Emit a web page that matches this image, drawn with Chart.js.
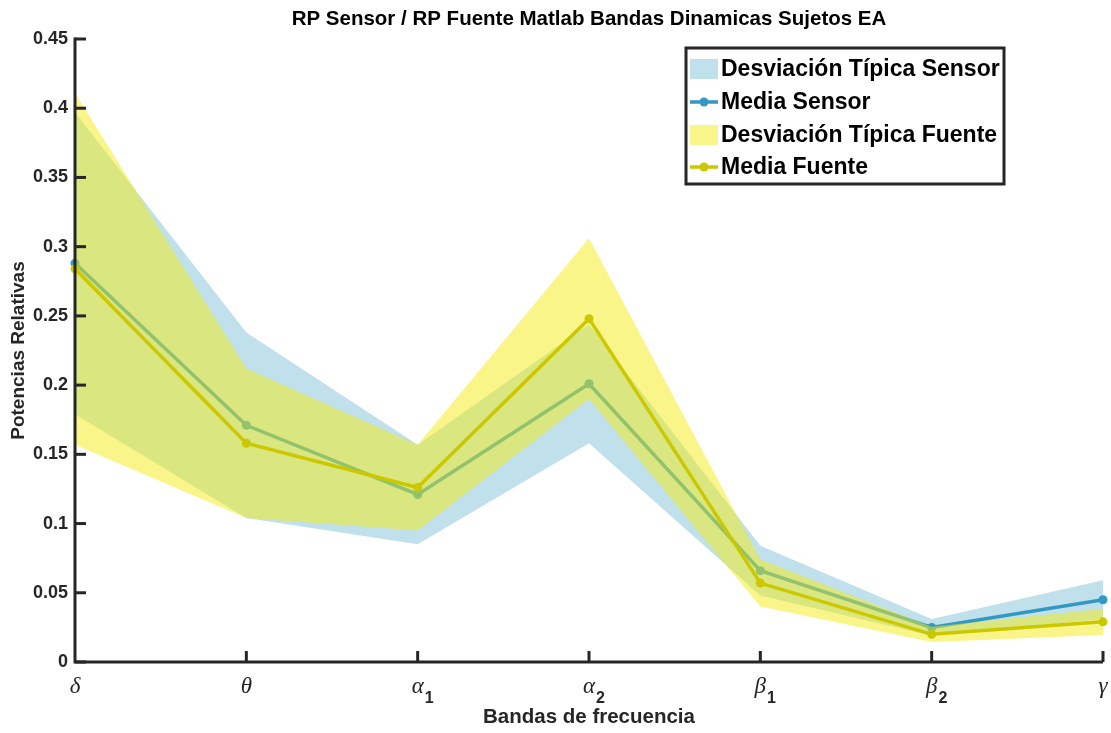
<!DOCTYPE html>
<html>
<head>
<meta charset="utf-8">
<script src="https://cdn.jsdelivr.net/npm/chart.js@4.4.1/dist/chart.umd.min.js"></script>
<style>
html,body{margin:0;padding:0;background:#fff;}
#wrap{width:1111px;height:733px;position:relative;}
</style>
</head>
<body>
<div id="wrap"><canvas id="c" width="1111" height="733"></canvas></div>
<script>
// ---- data ----
const bandLetters = ['δ', 'θ', 'α', 'α', 'β', 'β', 'γ'];
const bandSubs    = ['',  '',  '1', '2', '1', '2', ''];
const categories  = ['δ', 'θ', 'α1', 'α2', 'β1', 'β2', 'γ'];
const sensorMean = [0.288, 0.171, 0.121, 0.201, 0.066, 0.025, 0.045];
const sensorStd  = [0.109, 0.067, 0.036, 0.043, 0.018, 0.006, 0.014];
const fuenteMean = [0.284, 0.158, 0.126, 0.248, 0.057, 0.020, 0.029];
const fuenteStd  = [0.127, 0.054, 0.031, 0.058, 0.017, 0.0055, 0.0095];
const yTicks = [0, 0.05, 0.1, 0.15, 0.2, 0.25, 0.3, 0.35, 0.4, 0.45];
const titleText = 'RP Sensor / RP Fuente Matlab Bandas Dinamicas Sujetos EA';
const xTitle = 'Bandas de frecuencia';
const yTitle = 'Potencias Relativas';
const legendLabels = ['Desviación Típica Sensor', 'Media Sensor', 'Desviación Típica Fuente', 'Media Fuente'];

const sensorUpper = sensorMean.map((m, i) => m + sensorStd[i]);
const sensorLower = sensorMean.map((m, i) => m - sensorStd[i]);
const fuenteUpper = fuenteMean.map((m, i) => m + fuenteStd[i]);
const fuenteLower = fuenteMean.map((m, i) => m - fuenteStd[i]);

const C_SFILL = '#c0e0ec';
const C_SLINE = '#3399c4';
const C_FFILL = 'rgba(243,235,19,0.5)';
const C_FFILL_SOLID = '#f9f589';
const C_FLINE = '#ccc800';
const AX = '#262626';
const SANS = '"Liberation Sans", Arial, Helvetica, sans-serif';

const extras = {
  id: 'extras',
  afterDatasetsDraw(chart) {
    const ctx = chart.ctx;
    const a = chart.chartArea;
    const xs = chart.scales.x, ys = chart.scales.y;
    ctx.save();
    ctx.strokeStyle = AX;
    ctx.lineWidth = 3;
    ctx.lineCap = 'butt';
    // axes
    ctx.beginPath();
    ctx.moveTo(a.left, a.top - 1.5);
    ctx.lineTo(a.left, a.bottom);
    ctx.lineTo(a.right, a.bottom);
    ctx.stroke();
    // y ticks inward
    yTicks.forEach(v => {
      const py = ys.getPixelForValue(v);
      ctx.beginPath();
      ctx.moveTo(a.left, py);
      ctx.lineTo(a.left + 11, py);
      ctx.stroke();
    });
    // x ticks inward
    categories.forEach((c, i) => {
      if (i === 0) return;
      const px = xs.getPixelForValue(i);
      ctx.beginPath();
      ctx.moveTo(px, a.bottom);
      ctx.lineTo(px, a.bottom - 11);
      ctx.stroke();
    });
    // x labels
    ctx.fillStyle = '#262626';
    categories.forEach((c, i) => {
      const px = xs.getPixelForValue(i);
      const letter = bandLetters[i];
      const sub = bandSubs[i];
      ctx.font = 'italic 23px "Liberation Serif", "Times New Roman", serif';
      ctx.textBaseline = 'alphabetic';
      const w = ctx.measureText(letter).width;
      const x0 = px - w / 2;
      ctx.textAlign = 'left';
      ctx.fillText(letter, x0, 693);
      if (sub) {
        ctx.font = 'bold 16px ' + SANS;
        ctx.fillText(sub, x0 + w + 1, 703);
      }
    });
    // title
    ctx.font = 'bold 20.5px ' + SANS;
    ctx.textAlign = 'center';
    ctx.textBaseline = 'middle';
    ctx.fillStyle = '#000';
    ctx.fillText(titleText, (a.left + a.right) / 2, 19);
    // legend
    const L = 686, T = 48, R = 1004, B = 184;
    ctx.fillStyle = '#fff';
    ctx.fillRect(L, T, R - L, B - T);
    ctx.lineWidth = 3;
    ctx.strokeStyle = AX;
    ctx.strokeRect(L, T, R - L, B - T);
    const rows = [69, 102, 135, 167];
    ctx.fillStyle = C_SFILL;
    ctx.fillRect(690, rows[0] - 10, 28, 20);
    ctx.fillStyle = C_FFILL_SOLID;
    ctx.fillRect(690, rows[2] - 10, 28, 20);
    [[1, C_SLINE], [3, C_FLINE]].forEach(([r, col]) => {
      ctx.strokeStyle = col;
      ctx.lineWidth = 3.5;
      ctx.beginPath();
      ctx.moveTo(690, rows[r]);
      ctx.lineTo(718, rows[r]);
      ctx.stroke();
      ctx.fillStyle = col;
      ctx.beginPath();
      ctx.arc(704, rows[r], 4.5, 0, Math.PI * 2);
      ctx.fill();
    });
    ctx.fillStyle = '#000';
    ctx.font = 'bold 23px ' + SANS;
    ctx.textAlign = 'left';
    ctx.textBaseline = 'middle';
    legendLabels.forEach((t, i) => ctx.fillText(t, 721, rows[i] + 1));
    ctx.restore();
  }
};

const ds = [
  {label: legendLabels[0], data: sensorUpper, fill: '+1', backgroundColor: C_SFILL, borderWidth: 0, pointRadius: 0, order: 6},
  {label: 'sensorLower', data: sensorLower, fill: false, borderWidth: 0, pointRadius: 0, order: 5},
  {label: legendLabels[1], data: sensorMean, fill: false, borderColor: C_SLINE, backgroundColor: C_SLINE, borderWidth: 3.5, pointRadius: 4.5, pointBorderWidth: 0, order: 4},
  {label: legendLabels[2], data: fuenteUpper, fill: '+1', backgroundColor: C_FFILL, borderWidth: 0, pointRadius: 0, order: 3},
  {label: 'fuenteLower', data: fuenteLower, fill: false, borderWidth: 0, pointRadius: 0, order: 2},
  {label: legendLabels[3], data: fuenteMean, fill: false, borderColor: C_FLINE, backgroundColor: C_FLINE, borderWidth: 3.5, pointRadius: 4.5, pointBorderWidth: 0, order: 1}
];

new Chart(document.getElementById('c'), {
  type: 'line',
  data: {labels: categories, datasets: ds},
  options: {
    responsive: false,
    animation: false,
    clip: false,
    devicePixelRatio: 1,
    layout: {padding: {top: 39, right: 8, left: 0, bottom: 0}},
    elements: {line: {tension: 0}},
    plugins: {legend: {display: false}, title: {display: false}, tooltip: {enabled: false}},
    scales: {
      x: {
        type: 'category',
        offset: false,
        grid: {display: false, drawTicks: false},
        border: {display: false},
        ticks: {display: false},
        title: {display: true, text: xTitle, color: '#262626', font: {family: SANS, size: 20.5, weight: 'bold'}, padding: {top: 0, bottom: 3}},
        afterFit(s) { s.height = 71; }
      },
      y: {
        min: 0, max: 0.45,
        grid: {display: false, drawTicks: false},
        border: {display: false},
        afterBuildTicks(s) { s.ticks = yTicks.map(v => ({value: v})); },
        ticks: {
          color: '#262626', padding: 7,
          font: {family: SANS, size: 18, weight: 'bold'},
          callback: v => String(+v.toFixed(2))
        },
        title: {display: true, text: yTitle, color: '#262626', font: {family: SANS, size: 19, weight: 'bold'}, padding: {top: 7, bottom: 0}},
        afterFit(s) { s.width = 75; }
      }
    }
  },
  plugins: [extras]
});
</script>
</body>
</html>
